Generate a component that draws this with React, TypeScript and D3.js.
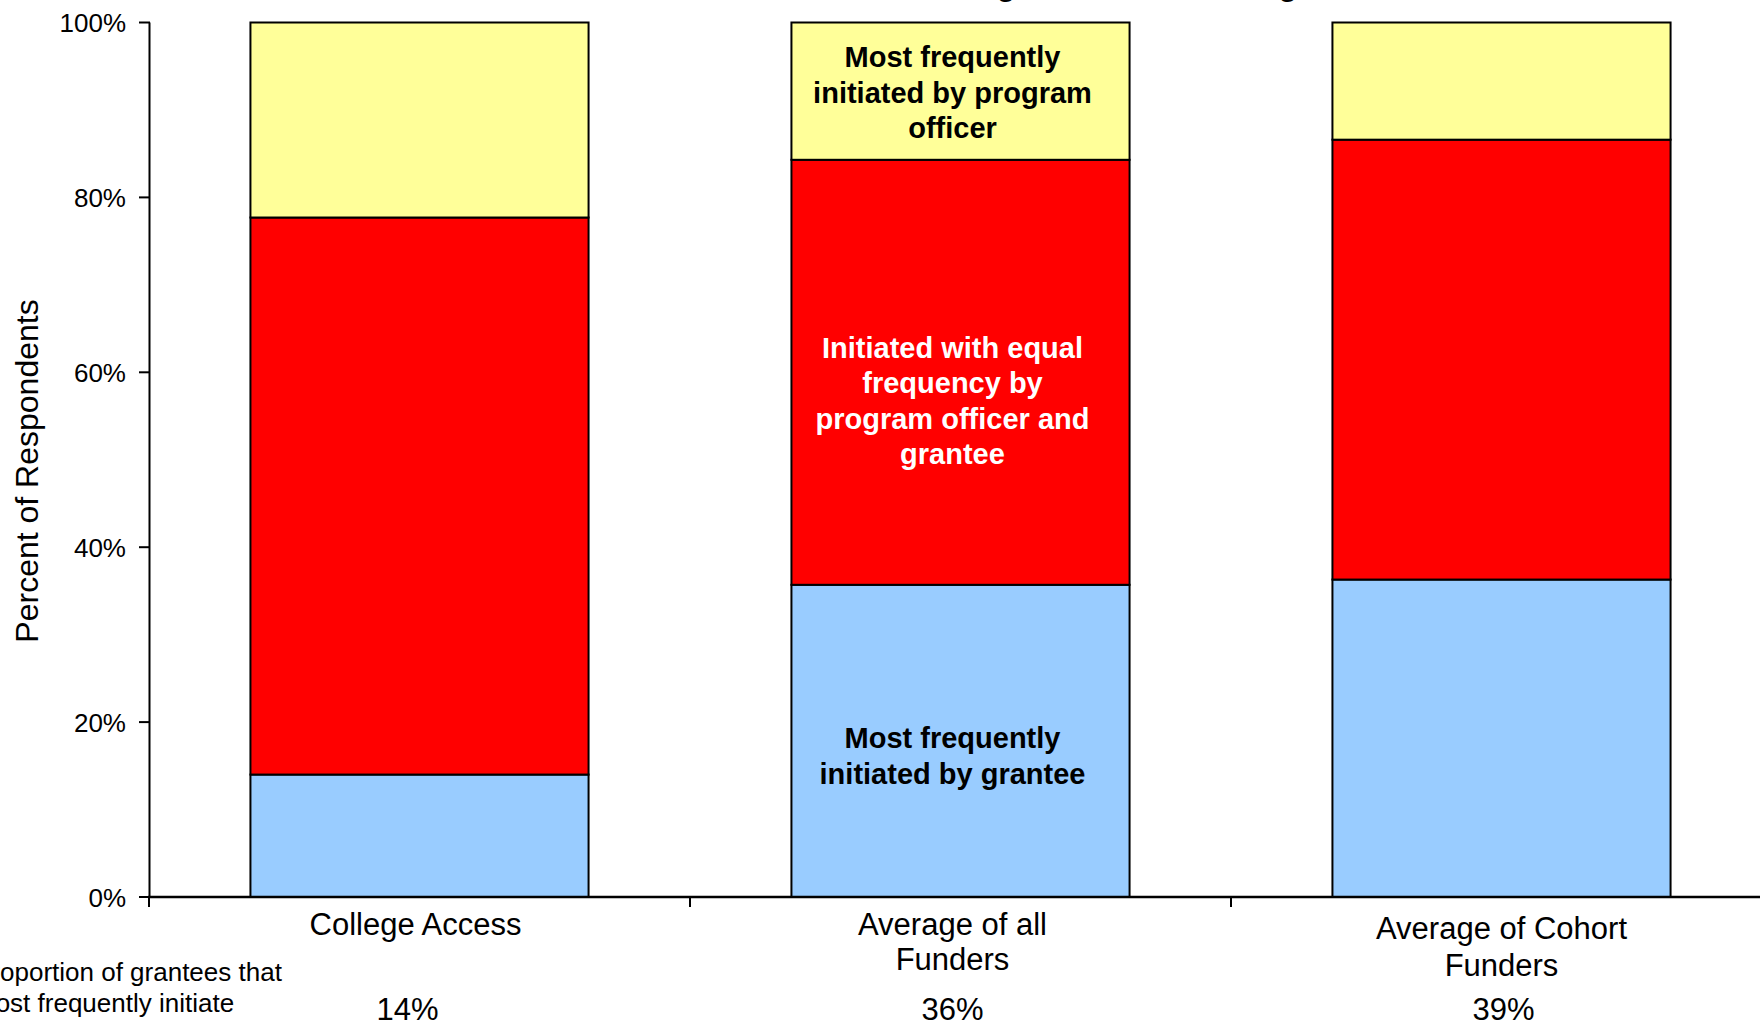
import React from "react";
import * as d3 from "d3";

const categories = ["College Access", "Average of all Funders", "Average of Cohort Funders"];
const categoryLines = [["College Access"], ["Average of all", "Funders"], ["Average of Cohort", "Funders"]];
const granteeInitiated = [14.0, 35.7, 36.3];
const equalInitiated = [63.7, 48.6, 50.3];
const officerInitiated = [22.3, 15.7, 13.4];
const proportionLabels = ["14%", "36%", "39%"];
const yTicks = [0, 20, 40, 60, 80, 100];
const seriesKeys = ["grantee", "equal", "officer"];
const seriesColors = ["#99CCFF", "#FF0000", "#FFFF99"];
const titleText = "Initiation of Program Officer Meetings";
const sideNote = ["Proportion of grantees that", "most frequently initiate"];
const officerLabel = ["Most frequently", "initiated by program", "officer"];
const equalLabel = ["Initiated with equal", "frequency by", "program officer and", "grantee"];
const granteeLabel = ["Most frequently", "initiated by grantee"];

const W = 1760;
const H = 1022;
const FONT = "'Liberation Sans', Arial, Helvetica, sans-serif";

export default function App() {
  const x = d3
    .scaleBand<string>()
    .domain(categories)
    .range([149, 1772])
    .paddingInner(0.375)
    .paddingOuter(0.1875);
  const y = d3.scaleLinear().domain([0, 100]).range([897, 22.5]);

  const rows = categories.map((c, i) => ({
    cat: c,
    grantee: granteeInitiated[i],
    equal: equalInitiated[i],
    officer: officerInitiated[i],
  }));
  const stack = d3.stack<any>().keys(seriesKeys)(rows);

  const mid = categories[1];
  const labelX = (x(mid) as number) + x.bandwidth() / 2 - 8;
  const lh = 35.5;

  const block = (lines: string[], centerVal: number, fill: string, key: string) => {
    const cy = y(centerVal);
    const n = lines.length;
    return lines.map((t, j) => (
      <text
        key={key + j}
        x={labelX}
        y={cy + (j - (n - 1) / 2) * lh + 10.5}
        textAnchor="middle"
        fontFamily={FONT}
        fontWeight="bold"
        fontSize={29}
        fill={fill}
      >
        {t}
      </text>
    ));
  };

  const catCenterOffsets = [-4, -8, 0];
  const catBaselines = [
    [935],
    [935, 970],
    [939, 976],
  ];

  return (
    <svg
      width={W}
      height={H}
      style={{ position: "absolute", left: 0, top: 0, background: "#fff" }}
    >
      <text x={777} y={-4} fontFamily={FONT} fontWeight="bold" fontSize={30} fill="#000">
        {titleText}
      </text>

      {stack.map((s, si) =>
        s.map((d, i) => (
          <rect
            key={seriesKeys[si] + i}
            x={x(categories[i]) as number}
            y={y(d[1])}
            width={x.bandwidth()}
            height={y(d[0]) - y(d[1])}
            fill={seriesColors[si]}
            stroke="#000"
            strokeWidth={2}
          />
        ))
      )}

      {/* y axis */}
      <line x1={149.5} x2={149.5} y1={y(100)} y2={y(0)} stroke="#000" strokeWidth={2} />
      {yTicks.map((t) => (
        <g key={t}>
          <line x1={139} x2={150} y1={y(t)} y2={y(t)} stroke="#000" strokeWidth={2} />
          <text
            x={126}
            y={y(t) + 9.5}
            textAnchor="end"
            fontFamily={FONT}
            fontSize={26}
            fill="#000"
          >
            {t + "%"}
          </text>
        </g>
      ))}
      <text
        transform={`translate(38, ${471}) rotate(-90)`}
        textAnchor="middle"
        fontFamily={FONT}
        fontSize={32}
        fill="#000"
      >
        Percent of Respondents
      </text>

      {/* x axis */}
      <line x1={148} x2={W} y1={y(0)} y2={y(0)} stroke="#000" strokeWidth={2.5} />
      {categories.map((c, i) => {
        const b = (x(c) as number) - (x.step() * x.paddingInner()) / 2;
        return <line key={"tk" + i} x1={b} x2={b} y1={y(0)} y2={y(0) + 10} stroke="#000" strokeWidth={2} />;
      })}
      {categories.map((c, i) => {
        const cx = (x(c) as number) + x.bandwidth() / 2 + catCenterOffsets[i];
        return categoryLines[i].map((t, j) => (
          <text
            key={"cl" + i + j}
            x={cx}
            y={catBaselines[i][j]}
            textAnchor="middle"
            fontFamily={FONT}
            fontSize={31}
            fill="#000"
          >
            {t}
          </text>
        ));
      })}
      {categories.map((c, i) => (
        <text
          key={"pl" + i}
          x={(x(c) as number) + x.bandwidth() / 2 + [-12, -8, 2][i]}
          y={1020}
          textAnchor="middle"
          fontFamily={FONT}
          fontSize={31}
          fill="#000"
        >
          {proportionLabels[i]}
        </text>
      ))}

      {sideNote.map((t, j) => (
        <text key={"sn" + j} x={-26} y={981 + j * 31} fontFamily={FONT} fontSize={26} fill="#000">
          {t}
        </text>
      ))}

      {block(officerLabel, 92.05, "#000", "ol")}
      {block(equalLabel, 56.8, "#fff", "el")}
      {block(granteeLabel, 16.2, "#000", "gl")}
    </svg>
  );
}
